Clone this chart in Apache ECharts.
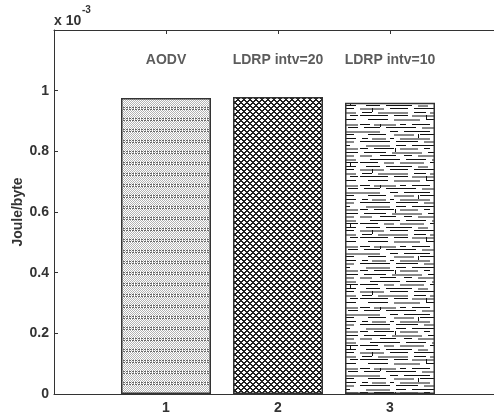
<!DOCTYPE html>
<html>
<head>
<meta charset="utf-8">
<script src="https://cdn.jsdelivr.net/npm/echarts@6/dist/echarts.min.js"></script>
<style>
html,body{margin:0;padding:0;background:#fff;}
#chart{width:494px;height:413px;}
</style>
</head>
<body>
<div id="chart"></div>
<script>
// ---- data ----
const categories = ['AODV', 'LDRP intv=20', 'LDRP intv=10'];
const xPositions = [1, 2, 3];
const energy = [0.976, 0.979, 0.960];   // Joule/byte, x 10^-3
const xTickLabels = ['1', '2', '3'];
const labelLevel = 1.1;
const yMin = 0, yMax = 1.2, yStep = 0.2;
const xMin = 0, xMax = 4;
const scaleText = 'x 10';
const scaleExp = '-3';

// ---- patterns ----
function makeCanvas(w, h) {
  const c = document.createElement('canvas');
  c.width = w; c.height = h;
  return c;
}
function dotPattern() {
  const w = 6, h = 11;
  const c = makeCanvas(w, h), ctx = c.getContext('2d');
  ctx.fillStyle = '#fff'; ctx.fillRect(0, 0, w, h);
  for (let y = 0; y < h; y++) {
    for (let x = 0; x < w; x++) {
      if (y === 8 || y === 10) {
        if (x % 3 !== 2) { ctx.fillStyle = '#666'; ctx.fillRect(x, y, 1, 1); }
      } else if ((x + y) % 2 === 0) {
        ctx.fillStyle = '#b4b4b4'; ctx.fillRect(x, y, 1, 1);
      }
    }
  }
  return c;
}
function hatchPattern() {
  const p = 6;
  const c = makeCanvas(p, p), ctx = c.getContext('2d');
  ctx.fillStyle = '#fff'; ctx.fillRect(0, 0, p, p);
  ctx.fillStyle = '#222';
  for (let y = 0; y < p; y++) {
    for (let x = 0; x < p; x++) {
      if ((x + y) % p < 2 || (x - y + 2 * p) % p < 2) ctx.fillRect(x, y, 1, 1);
    }
  }
  return c;
}
const dashRows = [
  [2, [[0,10,'k'],[14,22,'g'],[40,6,'k'],[52,18,'k'],[74,14,'g']]],
  [5, [[4,16,'k'],[26,30,'k'],[62,12,'g'],[78,10,'k']]],
  [9, [[0,20,'g'],[30,8,'k'],[44,26,'k'],[74,16,'g']]],
  [12, [[8,18,'k'],[34,20,'g'],[60,24,'k']]],
  [16, [[2,6,'k'],[12,14,'g'],[30,4,'k'],[40,30,'g'],[76,10,'k']]],
  [19, [[0,30,'k'],[36,22,'k'],[64,20,'g']]],
  [23, [[6,24,'g'],[36,10,'k'],[52,28,'k']]],
  [26, [[0,8,'k'],[14,20,'k'],[40,18,'g'],[64,6,'k'],[74,14,'g']]],
  [30, [[4,22,'k'],[32,30,'g'],[68,20,'k']]],
  [33, [[0,12,'g'],[20,16,'k'],[44,8,'k'],[58,26,'g']]],
  [37, [[10,30,'k'],[46,20,'k'],[72,14,'g']]],
  [40, [[0,18,'k'],[24,10,'g'],[40,24,'g'],[70,18,'k']]],
  [44, [[6,14,'k'],[26,26,'k'],[58,10,'g'],[74,12,'k']]],
  [47, [[0,24,'g'],[30,18,'k'],[54,30,'k']]],
  [51, [[2,10,'k'],[18,30,'g'],[54,12,'k'],[70,16,'g']]],
  [54, [[0,28,'k'],[34,14,'k'],[52,22,'g'],[80,8,'k']]],
  [58, [[8,20,'k'],[34,26,'g'],[66,20,'k']]]
];
const dashTicks = [[20,2,3],[58,12,4],[35,26,4],[80,40,4],[12,47,4],[66,54,4]];
function dashPattern() {
  const w = 90, h = 61;
  const c = makeCanvas(w, h), ctx = c.getContext('2d');
  ctx.fillStyle = '#fff'; ctx.fillRect(0, 0, w, h);
  dashRows.forEach(([y, segs]) => {
    segs.forEach(([x0, len, s]) => {
      if (s === 'k') { ctx.fillStyle = '#111'; ctx.fillRect(x0, y, len, 1); }
      else { ctx.fillStyle = '#8a8a8a'; ctx.fillRect(x0, y, len, 2); }
    });
  });
  ctx.fillStyle = '#111';
  dashTicks.forEach(([x, y, hh]) => ctx.fillRect(x, y, 1, hh));
  return c;
}
const patterns = [dotPattern(), hatchPattern(), dashPattern()];

const FONT = '"Liberation Sans", Arial, sans-serif';
const TXT = '#333';

const chart = echarts.init(document.getElementById('chart'), null, {renderer: 'canvas'});
const option = {
  animation: false,
  backgroundColor: '#fff',
  grid: {left: 54, top: 30, width: 448, height: 364, containLabel: false, outerBoundsMode: 'none'},
  graphic: [
    {type: 'text', left: 54, top: 14, style: {text: scaleText, font: 'bold 14px ' + FONT, fill: TXT}},
    {type: 'text', left: 82, top: 5, style: {text: scaleExp, font: 'bold 10px ' + FONT, fill: TXT}}
  ],
  xAxis: [{
    type: 'value', min: xMin, max: xMax, interval: 1,
    axisLine: {show: true, lineStyle: {color: '#333', width: 1}},
    axisTick: {show: true, inside: true, length: 4, lineStyle: {color: '#333'}},
    splitLine: {show: false},
    axisLabel: {
      margin: 7, color: TXT, fontFamily: FONT, fontWeight: 'bold', fontSize: 14,
      formatter: v => { const i = xPositions.indexOf(v); return i >= 0 ? xTickLabels[i] : ''; }
    }
  }, {
    type: 'value', position: 'top', min: xMin, max: xMax, interval: 1,
    axisLine: {show: true, onZero: false, lineStyle: {color: '#333', width: 1}},
    axisTick: {show: true, inside: true, length: 4, lineStyle: {color: '#333'}},
    splitLine: {show: false},
    axisLabel: {show: false}
  }],
  yAxis: {
    type: 'value', min: yMin, max: yMax, interval: yStep,
    name: 'Joule/byte', nameLocation: 'middle', nameGap: 29, nameRotate: 90,
    nameMoveOverlap: false,
    nameTextStyle: {color: TXT, fontFamily: FONT, fontWeight: 'bold', fontSize: 14},
    axisLine: {show: true, lineStyle: {color: '#333', width: 1}},
    axisTick: {show: true, inside: true, length: 4, lineStyle: {color: '#333'}},
    splitLine: {show: false},
    axisLabel: {
      margin: 5, color: TXT, fontFamily: FONT, fontWeight: 'bold', fontSize: 14,
      formatter: v => (Math.abs(v - yMax) < 1e-9 ? '' : String(Math.round(v * 10) / 10))
    }
  },
  series: [{
    type: 'bar',
    xAxisIndex: 0,
    barWidth: 90,
    data: energy.map((v, i) => ({
      value: [xPositions[i], v],
      itemStyle: {color: {image: patterns[i], repeat: 'repeat'}, borderColor: '#333', borderWidth: 1.5}
    }))
  }, {
    type: 'scatter',
    xAxisIndex: 0,
    symbolSize: 0,
    data: categories.map((c, i) => ({value: [xPositions[i], labelLevel], name: c})),
    label: {
      show: true, position: 'inside', formatter: p => p.name,
      color: TXT, fontFamily: FONT, fontWeight: 'bold', fontSize: 14
    },
    silent: true
  }]
};
chart.setOption(option);
</script>
</body>
</html>
